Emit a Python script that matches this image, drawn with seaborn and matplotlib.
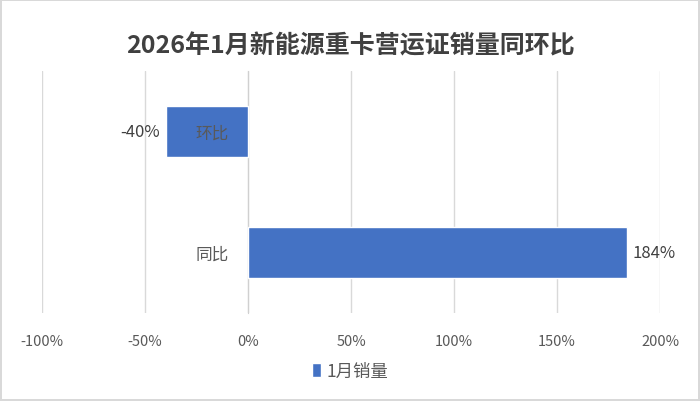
import pandas as pd
import seaborn as sns
import matplotlib.pyplot as plt
from matplotlib.ticker import FuncFormatter

# data
categories = ['环比', '同比']
values = [-40, 184]
ticks = [-100, -50, 0, 50, 100, 150, 200]
series_name = '1月销量'
title = '2026年1月新能源重卡营运证销量同环比'

df = pd.DataFrame({'类别': categories, '值': values})

sns.set_style('white')
plt.rcParams['font.family'] = ['Noto Sans CJK SC', 'DejaVu Sans']

fig = plt.figure(figsize=(7, 4.02), dpi=100)
ax = fig.add_axes([0.06, 0.219, 0.883, 0.602])

sns.barplot(data=df, x='值', y='类别', order=categories, color='#4472C4',
            saturation=1, width=0.42, label=series_name, ax=ax, zorder=3)

ax.set_xlim(ticks[0], ticks[-1])
ax.set_xticks(ticks)
ax.xaxis.set_major_formatter(FuncFormatter(lambda v, p: f'{v:.0f}%'))
ax.grid(axis='x', color='#d9d9d9', linewidth=1, zorder=0)
ax.set_axisbelow(True)
for s in ['top', 'right', 'bottom']:
    ax.spines[s].set_visible(False)
# category labels sit next to the 0% line, like the Excel axis
ax.spines['left'].set_position(('data', 0))
ax.spines['left'].set_color('#d0d0d0')
ax.spines['left'].set_zorder(1)
ax.tick_params(axis='y', length=0, pad=14, labelsize=12, labelcolor='#595959')
ax.tick_params(axis='x', length=0, pad=15, labelsize=10.5, labelcolor='#595959')
ax.yaxis.set_zorder(5)  # draw 环比 on top of its bar
ax.set_xlabel('')
ax.set_ylabel('')

# data labels
for c in ax.containers:
    ax.bar_label(c, labels=[f'{v:.0f}%' for v in values], padding=4,
                 fontsize=12, color='#404040')

fig.suptitle(title, y=0.915, fontsize=18, fontweight='bold', color='#404040')

ax.legend(loc='center', bbox_to_anchor=(0.5, 0.075), bbox_transform=fig.transFigure,
          frameon=False, handlelength=0.55, handleheight=0.9, handletextpad=0.3,
          prop={'size': 12.5}, labelcolor='#595959')

fig.patch.set_edgecolor('#d9d9d9')
fig.patch.set_linewidth(1.5)
fig.savefig('out.png', dpi=100, edgecolor=fig.get_edgecolor())
